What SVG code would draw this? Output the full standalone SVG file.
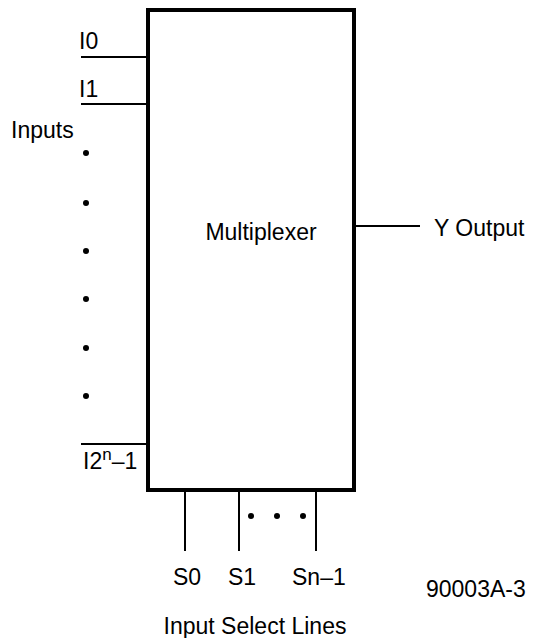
<svg xmlns="http://www.w3.org/2000/svg" width="538" height="638" viewBox="0 0 538 638">
<style>
text{font-family:"Liberation Sans",Arial,sans-serif;font-size:23px;fill:#000}
.w{stroke:#000;stroke-width:2;fill:none}
.d{fill:#000}
</style>
<rect width="538" height="638" fill="#fff"/>
<g id="mux">
<rect x="148" y="10" width="206" height="480" fill="none" stroke="#000" stroke-width="4"/>
<text x="261" y="240" text-anchor="middle" font-size="24">Multiplexer</text>
</g>
<g id="connectors">
<line class="w" x1="81" y1="57" x2="146" y2="57"/>
<line class="w" x1="81" y1="104" x2="146" y2="104"/>
<line class="w" x1="81" y1="444" x2="146" y2="444"/>
<line class="w" x1="356" y1="226" x2="420" y2="226"/>
<line class="w" x1="185" y1="492" x2="185" y2="551"/>
<line class="w" x1="239" y1="492" x2="239" y2="551"/>
<line class="w" x1="316" y1="492" x2="316" y2="551"/>
</g>
<g id="inputs">
<text x="79" y="49">I0</text>
<text x="79" y="97">I1</text>
<text x="11" y="138">Inputs</text>
<circle class="d" cx="86" cy="153" r="3"/>
<circle class="d" cx="86" cy="203" r="3"/>
<circle class="d" cx="86" cy="251" r="3"/>
<circle class="d" cx="86" cy="299" r="3"/>
<circle class="d" cx="86" cy="348" r="3"/>
<circle class="d" cx="86" cy="396" r="3"/>
<text x="83" y="469">I2<tspan dy="-9" font-size="17">n</tspan><tspan dy="9">–1</tspan></text>
</g>
<g id="output">
<text x="434" y="236">Y Output</text>
</g>
<g id="selects">
<circle class="d" cx="251" cy="516" r="3"/>
<circle class="d" cx="277" cy="516" r="3"/>
<circle class="d" cx="303" cy="516" r="3"/>
<text x="173" y="585">S0</text>
<text x="228" y="585">S1</text>
<text x="292" y="585">Sn–1</text>
<text x="255" y="634" text-anchor="middle">Input Select Lines</text>
<text x="426" y="597" font-size="20">90003A-3</text>
</g>
</svg>
